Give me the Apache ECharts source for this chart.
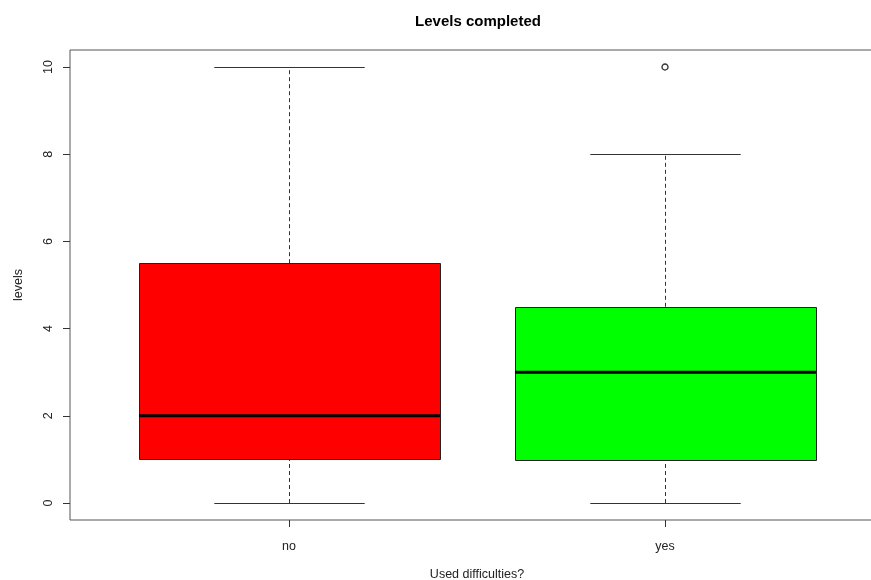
<!DOCTYPE html>
<html>
<head>
<meta charset="utf-8">
<title>Levels completed</title>
<script src="https://cdn.jsdelivr.net/npm/echarts@6/dist/echarts.min.js"></script>
<style>
  html, body { margin: 0; padding: 0; background: #ffffff; }
  #chart { width: 871px; height: 580px; }
</style>
</head>
<body>
<div id="chart"></div>
<script>
// Group labels along the x axis
var categories = ['no', 'yes'];
// Five-number summaries per group: [lower whisker, Q1, median, Q3, upper whisker]
var boxStats = [
  [0, 1, 2, 5.5, 10],
  [0, 1, 3, 4.5, 8]
];
// Outlying observations: [group index, value]
var outliers = [
  [1, 10]
];
var boxColors = ['#ff0000', '#00ff00'];
var yTicks = { min: 0, max: 10, interval: 2 };

var FONT = '"Liberation Sans", Arial, Helvetica, sans-serif';
var chart = echarts.init(document.getElementById('chart'), null, { renderer: 'canvas' });

function renderBox(params, api) {
  var idx = api.value(0);
  var lo = api.value(1), q1 = api.value(2), med = api.value(3), q3 = api.value(4), hi = api.value(5);
  var band = api.size([1, 0])[0];
  var half = band * 0.4;
  var capHalf = band * 0.2;
  var pLo = api.coord([idx, lo]);
  var pQ1 = api.coord([idx, q1]);
  var pMed = api.coord([idx, med]);
  var pQ3 = api.coord([idx, q3]);
  var pHi = api.coord([idx, hi]);
  var cx = Math.round(pMed[0]) + 0.5;
  var lineStyle = { stroke: '#333', lineWidth: 1 };
  var dashStyle = { stroke: '#333', lineWidth: 1, lineDash: [4, 3] };
  return {
    type: 'group',
    children: [
      { type: 'line', shape: { x1: cx, y1: pQ3[1], x2: cx, y2: pHi[1] }, style: dashStyle },
      { type: 'line', shape: { x1: cx, y1: pLo[1], x2: cx, y2: pQ1[1] }, style: dashStyle },
      { type: 'line', shape: { x1: cx - capHalf, y1: Math.round(pHi[1]) + 0.5, x2: cx + capHalf, y2: Math.round(pHi[1]) + 0.5 }, style: lineStyle },
      { type: 'line', shape: { x1: cx - capHalf, y1: Math.round(pLo[1]) + 0.5, x2: cx + capHalf, y2: Math.round(pLo[1]) + 0.5 }, style: lineStyle },
      {
        type: 'rect',
        shape: { x: Math.round(cx - half) + 0.5, y: Math.round(pQ3[1]) + 0.5, width: Math.round(half * 2), height: Math.round(pQ1[1] - pQ3[1]) },
        style: { fill: boxColors[idx], stroke: '#222', lineWidth: 1 }
      },
      { type: 'line', shape: { x1: cx - half, y1: pMed[1], x2: cx + half, y2: pMed[1] }, style: { stroke: '#000', lineWidth: 3 } }
    ]
  };
}

var noBounds = { outerBoundsMode: 'none', containLabel: false };
function gridSpec(o) { return Object.assign({}, noBounds, o); }

var option = {
  backgroundColor: '#ffffff',
  animation: false,
  title: {
    text: 'Levels completed',
    left: 473,
    textAlign: 'center',
    top: 9,
    textStyle: { fontFamily: FONT, fontSize: 15, fontWeight: 'bold', color: '#000' }
  },
  grid: [
    // plot frame
    gridSpec({ left: 70, top: 50, width: 812, height: 470, show: true, borderColor: '#555', borderWidth: 1, backgroundColor: 'transparent' }),
    // y axis scale
    gridSpec({ left: 70, top: 67, width: 812, height: 436 }),
    // group positions for the boxes
    gridSpec({ left: 101, top: 67, width: 752, height: 436 }),
    // group axis along the bottom of the frame
    gridSpec({ left: 101, top: 50, width: 752, height: 470 })
  ],
  xAxis: [
    { gridIndex: 0, type: 'value', min: 0, max: 1, show: false },
    { gridIndex: 1, type: 'value', min: 0, max: 1, show: false },
    { gridIndex: 2, type: 'category', data: categories, show: false },
    {
      gridIndex: 3,
      type: 'category',
      data: categories,
      position: 'bottom',
      name: 'Used difficulties?',
      nameLocation: 'middle',
      nameGap: 48,
      nameTextStyle: { fontFamily: FONT, fontSize: 12.5, color: '#222' },
      axisLine: { show: false },
      axisTick: { show: true, alignWithLabel: true, length: 7, lineStyle: { color: '#333' } },
      axisLabel: { fontFamily: FONT, fontSize: 12.5, color: '#222', margin: 20 },
      splitLine: { show: false }
    }
  ],
  yAxis: [
    { gridIndex: 0, type: 'value', min: 0, max: 1, show: false },
    {
      gridIndex: 1,
      type: 'value',
      min: yTicks.min,
      max: yTicks.max,
      interval: yTicks.interval,
      position: 'left',
      name: 'levels',
      nameLocation: 'middle',
      nameGap: 45,
      nameRotate: 90,
      nameTextStyle: { fontFamily: FONT, fontSize: 12.5, color: '#222' },
      axisLine: { show: false },
      axisTick: { show: true, length: 7, lineStyle: { color: '#333' } },
      axisLabel: { fontFamily: FONT, fontSize: 12.5, color: '#222', rotate: 90, margin: 15 },
      splitLine: { show: false }
    },
    { gridIndex: 2, type: 'value', min: yTicks.min, max: yTicks.max, show: false },
    { gridIndex: 3, type: 'value', min: 0, max: 1, show: false }
  ],
  series: [
    {
      type: 'custom',
      xAxisIndex: 2,
      yAxisIndex: 2,
      renderItem: renderBox,
      data: boxStats.map(function (s, i) { return [i].concat(s); }),
      clip: false,
      z: 2
    },
    {
      type: 'scatter',
      xAxisIndex: 2,
      yAxisIndex: 2,
      data: outliers,
      symbol: 'circle',
      symbolSize: 6,
      clip: false,
      itemStyle: { color: 'rgba(255,255,255,0)', borderColor: '#000', borderWidth: 1.4 },
      z: 3
    }
  ]
};

chart.setOption(option);
</script>
</body>
</html>
